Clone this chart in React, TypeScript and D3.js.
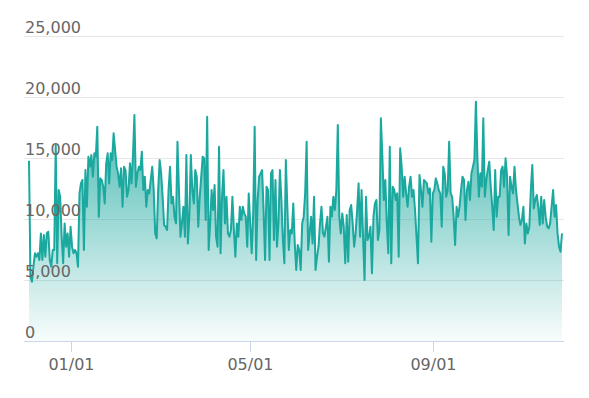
import React from "react";
import * as d3 from "d3";

// Daily values starting 2023-12-04
const startDate = "2023-12-04";

const decValues = [
  14780, 5270, 4860, 6090, 7190, 6910, 7190, 6640, 8820, 6640,
  8690, 6910, 8820, 8960, 6640, 6090, 7460, 7460, 16060, 6370,
  12380, 11830, 8550, 6370, 9640, 7730, 8820, 6910,
];

const janAprValues = [
  9370, 7730, 7190, 7460, 7190, 6090, 12100, 12920, 13200, 7460,
  14010, 11010, 15110, 14290, 15240, 13470, 15380, 15110, 17570, 10190,
  13330, 13200, 12650, 11280, 14560, 15380, 12920, 15380, 14830, 17020,
  15650, 14290, 13740, 12650, 14150, 11010, 14290, 14010, 11830, 12380,
  14560, 12920, 15110, 18520, 12650, 13740, 14290, 14010, 15520, 12380,
  13470, 11010, 12380, 12100, 13200, 14290, 12380, 8820, 8410, 12380,
  14830, 13740, 11830, 9510, 9370, 9100, 12380, 14290, 11280, 11830,
  10190, 9640, 16340, 12380, 8550, 9640, 11010, 8550, 15240, 8000,
  10190, 15240, 12380, 11280, 14010, 13470, 9370, 11830, 13470, 15110,
  14970, 9920, 18390, 7460, 9640, 12380, 10740, 12790, 8550, 7730,
  15930, 7190, 11830, 14010, 9640, 11830, 8820, 8550, 9100, 11830,
  9100, 6910, 9640, 8550, 11010, 9920, 11010, 10460, 10190, 7730,
  12100,
];

const mayAugValues = [
  9640, 7190, 10460, 17570, 6640, 11560, 13470, 13740, 14010, 10740,
  6640, 12650, 12380, 6640, 13740, 14010, 8280, 13200, 7730, 9640,
  14010, 11560, 8280, 6370, 14830, 11010, 7460, 9100, 8820, 11280,
  8000, 5820, 7870, 7460, 5820, 9640, 10190, 12100, 16340, 7460,
  8820, 10190, 8000, 11830, 5820, 6910, 7730, 9640, 11010, 8820,
  8550, 9370, 10190, 6500, 11010, 10190, 11830, 10740, 12380, 17700,
  10190, 8820, 10460, 9370, 6370, 10330, 6500, 10740, 11150, 9640,
  7730, 8820, 10740, 12920, 8550, 12380, 8550, 5000, 11830, 8280,
  8550, 9370, 5550, 10190, 11280, 11560, 8280, 9100, 18250, 15110,
  11560, 13200, 9640, 7190, 15930, 6370, 12650, 12380, 11560, 12100,
  6910, 15790, 14290, 11830, 13470, 12100, 11010, 12650, 13470, 11830,
  12380, 10740, 8550, 6370, 13610, 12380, 11010, 13200, 13060, 12920,
  12100, 12510, 8140,
];

const sepNovValues = [
  12100, 12380, 13330, 12920, 12380, 12100, 9370, 14290, 13740, 11830,
  12380, 16340, 12100, 11830, 10190, 7870, 11010, 10190, 11010, 12380,
  13470, 13200, 9920, 12380, 13060, 11560, 13740, 14290,
  14830, 19620, 15110, 11830, 13740, 12650, 18250, 11830, 13200, 14010,
  14700, 12650, 11010, 9100, 14010, 10190, 11830, 11830, 14010, 14290,
  12650, 14970, 13470, 8690, 13470, 12650, 12100, 14290, 12380, 11280,
  10190, 9510, 9920, 11010, 8000, 9640, 8820, 9370, 12380, 14420,
  10870, 11560, 11970, 11010, 9510, 11830, 9640, 11560, 10190, 9370,
  9230, 9640, 11010, 12380, 10190, 11150, 8820, 7730, 7320, 8820,
];

const yTicks = [0, 5000, 10000, 15000, 20000, 25000];
const xTickDates = ["2024-01-01", "2024-05-01", "2024-09-01"];
const xTickLabels = ["01/01", "05/01", "09/01"];

const LINE_COLOR = "#1ba89f";
const FONT = "'DejaVu Sans', Verdana, sans-serif";

export default function App() {
  const W = 589;
  const H = 398;
  const plotLeft = 24;
  const plotRight = 564;

  const parse = d3.utcParse("%Y-%m-%d");
  const start = parse(startDate) as Date;
  const values = [...decValues, ...janAprValues, ...mayAugValues, ...sepNovValues];
  const data = values.map((v, i) => ({ date: d3.utcDay.offset(start, i), value: v }));

  const x = d3
    .scaleUtc()
    .domain(d3.extent(data, (d) => d.date) as [Date, Date])
    .range([29, 562]);
  const y = d3.scaleLinear().domain([0, 25000]).range([341, 36]);

  const lineGen = d3
    .line<{ date: Date; value: number }>()
    .x((d) => x(d.date))
    .y((d) => y(d.value));
  const areaGen = d3
    .area<{ date: Date; value: number }>()
    .x((d) => x(d.date))
    .y0(y(0))
    .y1((d) => y(d.value));

  const fmt = d3.format(",");

  return (
    <svg
      width={W}
      height={H}
      style={{ position: "absolute", left: 0, top: 0, background: "#fff" }}
    >
      <defs>
        <linearGradient id="areaGrad" x1="0" y1="100" x2="0" y2="341" gradientUnits="userSpaceOnUse">
          <stop offset="0" stopColor={LINE_COLOR} stopOpacity={0.85} />
          <stop offset="1" stopColor={LINE_COLOR} stopOpacity={0.03} />
        </linearGradient>
      </defs>

      {yTicks
        .filter((t) => t !== 0)
        .map((t) => (
          <line
            key={"g" + t}
            x1={plotLeft}
            x2={plotRight}
            y1={Math.round(y(t)) + 0.5}
            y2={Math.round(y(t)) + 0.5}
            stroke="#e6e6e6"
            strokeWidth={1}
          />
        ))}

      <path d={areaGen(data) || ""} fill="url(#areaGrad)" stroke="none" />
      <path d={lineGen(data) || ""} fill="none" stroke={LINE_COLOR} strokeWidth={2} strokeLinejoin="round" />

      <line
        x1={plotLeft}
        x2={plotRight}
        y1={Math.round(y(0)) + 0.5}
        y2={Math.round(y(0)) + 0.5}
        stroke="#ccd6eb"
        strokeWidth={1}
      />

      {yTicks.map((t) => (
        <text
          key={"yl" + t}
          x={25}
          y={y(t) - 3}
          fontFamily={FONT}
          fontSize={16}
          fill="#666666"
        >
          {fmt(t)}
        </text>
      ))}

      {xTickDates.map((s, i) => {
        const xp = Math.round(x(parse(s) as Date)) + 0.5;
        return (
          <g key={"xt" + s}>
            <line x1={xp} x2={xp} y1={342} y2={352} stroke="#ccd6eb" strokeWidth={1} />
            <text
              x={xp}
              y={370}
              textAnchor="middle"
              fontFamily={FONT}
              fontSize={16}
              fill="#666666"
            >
              {xTickLabels[i]}
            </text>
          </g>
        );
      })}
    </svg>
  );
}
